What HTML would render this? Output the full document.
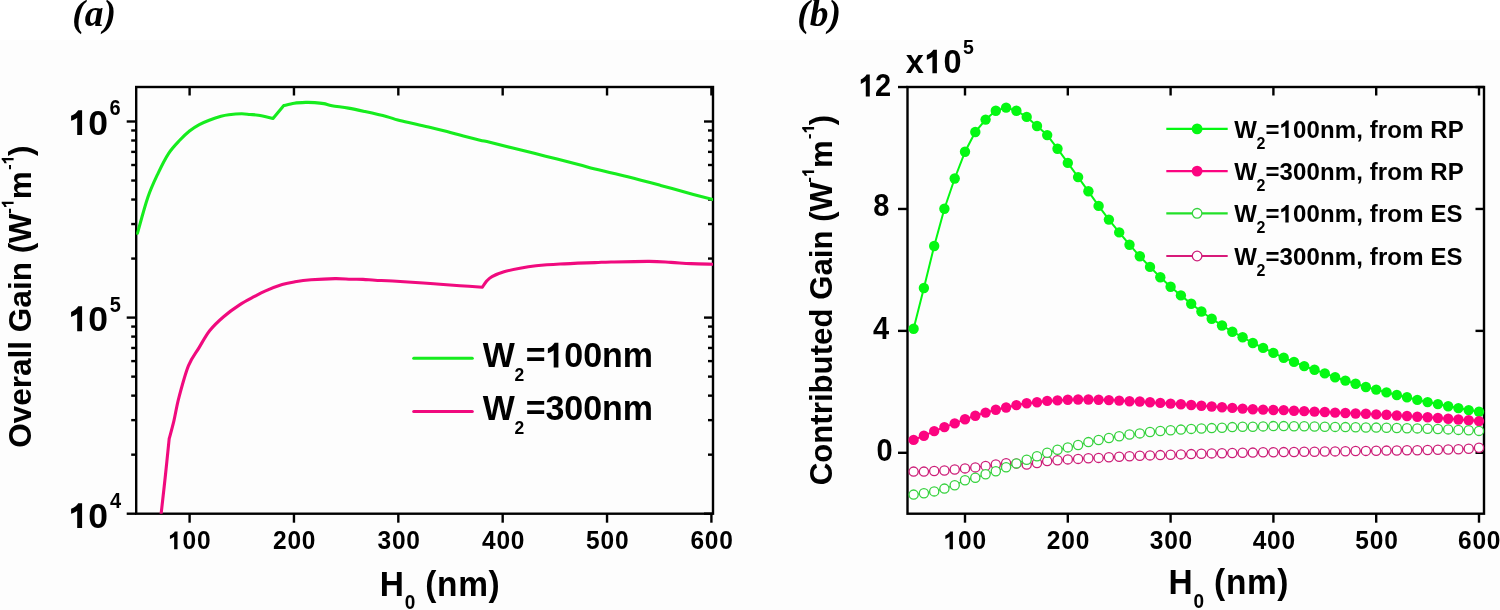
<!DOCTYPE html>
<html><head><meta charset="utf-8"><title>Gain plots</title>
<style>
html,body{margin:0;padding:0;background:#fff;}
body{width:1500px;height:610px;overflow:hidden;}
svg{display:block;will-change:transform;}
text{font-kerning:none;}
</style></head>
<body>
<svg width="1500" height="610" viewBox="0 0 1500 610">
<defs><clipPath id="clipA"><rect x="136.2" y="87.0" width="576.8" height="426.70000000000005"/></clipPath></defs>
<rect x="0" y="0" width="1500" height="610" fill="#fff"/>
<rect x="0" y="40" width="1500" height="570" fill="#fdfdfd"/>
<rect x="136.2" y="87.0" width="576.80" height="426.70" fill="none" stroke="#000" stroke-width="2.4"/>
<line x1="189.60" y1="513.70" x2="189.60" y2="522.70" stroke="#000" stroke-width="2.4"/>
<line x1="189.60" y1="87.00" x2="189.60" y2="95.50" stroke="#000" stroke-width="2.4"/>
<line x1="293.96" y1="513.70" x2="293.96" y2="522.70" stroke="#000" stroke-width="2.4"/>
<line x1="293.96" y1="87.00" x2="293.96" y2="95.50" stroke="#000" stroke-width="2.4"/>
<line x1="398.32" y1="513.70" x2="398.32" y2="522.70" stroke="#000" stroke-width="2.4"/>
<line x1="398.32" y1="87.00" x2="398.32" y2="95.50" stroke="#000" stroke-width="2.4"/>
<line x1="502.68" y1="513.70" x2="502.68" y2="522.70" stroke="#000" stroke-width="2.4"/>
<line x1="502.68" y1="87.00" x2="502.68" y2="95.50" stroke="#000" stroke-width="2.4"/>
<line x1="607.04" y1="513.70" x2="607.04" y2="522.70" stroke="#000" stroke-width="2.4"/>
<line x1="607.04" y1="87.00" x2="607.04" y2="95.50" stroke="#000" stroke-width="2.4"/>
<line x1="711.40" y1="513.70" x2="711.40" y2="522.70" stroke="#000" stroke-width="2.4"/>
<line x1="711.40" y1="87.00" x2="711.40" y2="95.50" stroke="#000" stroke-width="2.4"/>
<line x1="126.70" y1="513.70" x2="136.20" y2="513.70" stroke="#000" stroke-width="2.4"/>
<line x1="713.00" y1="513.70" x2="704.00" y2="513.70" stroke="#000" stroke-width="2.4"/>
<line x1="126.70" y1="317.60" x2="136.20" y2="317.60" stroke="#000" stroke-width="2.4"/>
<line x1="713.00" y1="317.60" x2="704.00" y2="317.60" stroke="#000" stroke-width="2.4"/>
<line x1="126.70" y1="121.50" x2="136.20" y2="121.50" stroke="#000" stroke-width="2.4"/>
<line x1="713.00" y1="121.50" x2="704.00" y2="121.50" stroke="#000" stroke-width="2.4"/>
<line x1="131.20" y1="454.67" x2="136.20" y2="454.67" stroke="#000" stroke-width="2.4"/>
<line x1="713.00" y1="454.67" x2="708.00" y2="454.67" stroke="#000" stroke-width="2.4"/>
<line x1="131.20" y1="420.14" x2="136.20" y2="420.14" stroke="#000" stroke-width="2.4"/>
<line x1="713.00" y1="420.14" x2="708.00" y2="420.14" stroke="#000" stroke-width="2.4"/>
<line x1="131.20" y1="395.64" x2="136.20" y2="395.64" stroke="#000" stroke-width="2.4"/>
<line x1="713.00" y1="395.64" x2="708.00" y2="395.64" stroke="#000" stroke-width="2.4"/>
<line x1="131.20" y1="376.63" x2="136.20" y2="376.63" stroke="#000" stroke-width="2.4"/>
<line x1="713.00" y1="376.63" x2="708.00" y2="376.63" stroke="#000" stroke-width="2.4"/>
<line x1="131.20" y1="361.10" x2="136.20" y2="361.10" stroke="#000" stroke-width="2.4"/>
<line x1="713.00" y1="361.10" x2="708.00" y2="361.10" stroke="#000" stroke-width="2.4"/>
<line x1="131.20" y1="347.98" x2="136.20" y2="347.98" stroke="#000" stroke-width="2.4"/>
<line x1="713.00" y1="347.98" x2="708.00" y2="347.98" stroke="#000" stroke-width="2.4"/>
<line x1="131.20" y1="336.60" x2="136.20" y2="336.60" stroke="#000" stroke-width="2.4"/>
<line x1="713.00" y1="336.60" x2="708.00" y2="336.60" stroke="#000" stroke-width="2.4"/>
<line x1="131.20" y1="326.57" x2="136.20" y2="326.57" stroke="#000" stroke-width="2.4"/>
<line x1="713.00" y1="326.57" x2="708.00" y2="326.57" stroke="#000" stroke-width="2.4"/>
<line x1="131.20" y1="258.57" x2="136.20" y2="258.57" stroke="#000" stroke-width="2.4"/>
<line x1="713.00" y1="258.57" x2="708.00" y2="258.57" stroke="#000" stroke-width="2.4"/>
<line x1="131.20" y1="224.04" x2="136.20" y2="224.04" stroke="#000" stroke-width="2.4"/>
<line x1="713.00" y1="224.04" x2="708.00" y2="224.04" stroke="#000" stroke-width="2.4"/>
<line x1="131.20" y1="199.54" x2="136.20" y2="199.54" stroke="#000" stroke-width="2.4"/>
<line x1="713.00" y1="199.54" x2="708.00" y2="199.54" stroke="#000" stroke-width="2.4"/>
<line x1="131.20" y1="180.53" x2="136.20" y2="180.53" stroke="#000" stroke-width="2.4"/>
<line x1="713.00" y1="180.53" x2="708.00" y2="180.53" stroke="#000" stroke-width="2.4"/>
<line x1="131.20" y1="165.00" x2="136.20" y2="165.00" stroke="#000" stroke-width="2.4"/>
<line x1="713.00" y1="165.00" x2="708.00" y2="165.00" stroke="#000" stroke-width="2.4"/>
<line x1="131.20" y1="151.88" x2="136.20" y2="151.88" stroke="#000" stroke-width="2.4"/>
<line x1="713.00" y1="151.88" x2="708.00" y2="151.88" stroke="#000" stroke-width="2.4"/>
<line x1="131.20" y1="140.50" x2="136.20" y2="140.50" stroke="#000" stroke-width="2.4"/>
<line x1="713.00" y1="140.50" x2="708.00" y2="140.50" stroke="#000" stroke-width="2.4"/>
<line x1="131.20" y1="130.47" x2="136.20" y2="130.47" stroke="#000" stroke-width="2.4"/>
<line x1="713.00" y1="130.47" x2="708.00" y2="130.47" stroke="#000" stroke-width="2.4"/>
<g clip-path="url(#clipA)">
<path d="M161.20,513.20 C161.90,506.92 164.07,487.92 165.40,475.50 C166.73,463.08 168.57,444.83 169.20,438.70 M169.20,438.70 C169.98,435.72 172.28,427.65 173.90,420.80 C175.52,413.95 176.47,406.78 178.90,397.60 C181.33,388.42 185.13,374.03 188.50,365.70 C191.87,357.37 195.55,353.47 199.10,347.60 C202.65,341.73 205.72,335.65 209.80,330.50 C213.88,325.35 218.63,320.97 223.60,316.70 C228.57,312.43 234.43,308.28 239.60,304.90 C244.77,301.52 250.37,298.70 254.60,296.40 C258.83,294.10 260.40,293.07 265.00,291.10 C269.60,289.13 277.20,286.15 282.20,284.60 C287.20,283.05 290.20,282.60 295.00,281.80 C299.80,281.00 304.33,280.33 311.00,279.80 C317.67,279.27 328.33,278.70 335.00,278.60 C341.67,278.50 346.33,279.07 351.00,279.20 C355.67,279.33 359.00,279.23 363.00,279.40 C367.00,279.57 370.05,279.93 375.00,280.20 C379.95,280.47 384.65,280.53 392.70,281.00 C400.75,281.47 415.42,282.47 423.30,283.00 C431.18,283.53 433.88,283.75 440.00,284.20 C446.12,284.65 452.93,285.20 460.00,285.70 C467.07,286.20 478.67,286.95 482.40,287.20 M482.40,287.20 C483.07,286.23 484.80,283.17 486.40,281.40 C488.00,279.63 489.07,278.20 492.00,276.60 C494.93,275.00 499.33,273.20 504.00,271.80 C508.67,270.40 514.67,269.20 520.00,268.20 C525.33,267.20 529.33,266.50 536.00,265.80 C542.67,265.10 550.17,264.53 560.00,264.00 C569.83,263.47 586.50,262.93 595.00,262.60 C603.50,262.27 601.93,262.20 611.00,262.00 C620.07,261.80 639.40,261.33 649.40,261.40 C659.40,261.47 664.07,262.03 671.00,262.40 C677.93,262.77 684.00,263.30 691.00,263.60 C698.00,263.90 709.33,264.10 713.00,264.20" fill="none" stroke="#f00a7e" stroke-width="3.1" stroke-linejoin="round" stroke-linecap="round"/>
<path d="M137.40,233.40 C139.13,227.40 144.32,207.50 147.80,197.40 C151.28,187.30 154.82,180.15 158.30,172.80 C161.78,165.45 165.13,158.72 168.70,153.30 C172.27,147.88 176.23,144.02 179.70,140.30 C183.17,136.58 186.23,133.62 189.50,131.00 C192.77,128.38 196.02,126.40 199.30,124.60 C202.58,122.80 205.58,121.60 209.20,120.20 C212.82,118.80 217.73,117.12 221.00,116.20 C224.27,115.28 225.37,115.10 228.80,114.70 C232.23,114.30 238.07,113.83 241.60,113.80 C245.13,113.77 247.22,114.27 250.00,114.50 C252.78,114.73 254.47,114.55 258.30,115.20 C262.13,115.85 270.55,117.87 273.00,118.40 M273.00,118.40 L283.60,105.70 M283.60,105.70 C285.38,105.28 290.62,103.75 294.30,103.20 C297.98,102.65 302.30,102.50 305.70,102.40 C309.10,102.30 311.68,102.40 314.70,102.60 C317.72,102.80 320.92,103.08 323.80,103.60 C326.68,104.12 327.90,104.95 332.00,105.70 C336.10,106.45 342.90,107.13 348.40,108.10 C353.90,109.07 358.68,110.12 365.00,111.50 C371.32,112.88 380.83,114.97 386.30,116.40 C391.77,117.83 393.15,118.87 397.80,120.10 C402.45,121.33 408.73,122.57 414.20,123.80 C419.67,125.03 425.13,126.20 430.60,127.50 C436.07,128.80 441.53,130.17 447.00,131.60 C452.47,133.03 457.90,134.67 463.40,136.10 C468.90,137.53 475.60,139.17 480.00,140.20 C484.40,141.23 484.33,141.00 489.80,142.30 C495.27,143.60 503.50,145.68 512.80,148.00 C522.10,150.32 534.67,153.47 545.60,156.20 C556.53,158.93 570.17,162.27 578.40,164.40 C586.63,166.53 586.77,166.93 595.00,169.00 C603.23,171.07 616.87,174.07 627.80,176.80 C638.73,179.53 649.67,182.47 660.60,185.40 C671.53,188.33 684.67,192.03 693.40,194.40 C702.13,196.77 709.73,198.73 713.00,199.60" fill="none" stroke="#16ec1e" stroke-width="3.1" stroke-linejoin="round" stroke-linecap="round"/>
</g>
<path d="M413.7,358.3H472.3" stroke="#16ec1e" stroke-width="3.0" stroke-linecap="round" fill="none"/>
<path d="M413.7,411.5H472.3" stroke="#f00a7e" stroke-width="3.0" stroke-linecap="round" fill="none"/>
<g font-family='"Liberation Sans", sans-serif' font-weight="bold" fill="#000" style="font-kerning:none">
<text transform="matrix(1,0,0,1.035,0,-12.862)" x="482.87" y="367.50" font-size="34">W</text>
<text transform="matrix(1,0,0,1.035,0,-13.352)" x="514.59" y="381.50" font-size="17.5">2</text>
<path d="M380,0L242,0L242,-492C196,-455 132,-423 70,-402L70,-542C160,-578 234,-638 270,-700L380,-700Z" transform="translate(545.47,367.50) scale(0.03400,0.03519)"/>
<text transform="matrix(1,0,0,1.035,0,-12.862)" x="525.69 564.31 583.14 601.98 622.68" y="367.50" font-size="34">=00nm</text>
<text transform="matrix(1,0,0,1.035,0,-14.700)" x="482.87" y="420.00" font-size="34">W</text>
<text transform="matrix(1,0,0,1.035,0,-15.190)" x="514.59" y="434.00" font-size="17.5">2</text>
<text transform="matrix(1,0,0,1.035,0,-14.700)" x="525.69 545.47 564.31 583.14 601.98 622.68" y="420.00" font-size="34">=300nm</text>
<path d="M380,0L242,0L242,-492C196,-455 132,-423 70,-402L70,-542C160,-578 234,-638 270,-700L380,-700Z" transform="translate(68.61,135.10) scale(0.03550,0.03550)"/>
<text x="88.36" y="135.10" font-size="35.5">0</text>
<text transform="matrix(1,0,0,1.1,0,-11.550)" x="109.57" y="115.50" font-size="20">6</text>
<path d="M380,0L242,0L242,-492C196,-455 132,-423 70,-402L70,-542C160,-578 234,-638 270,-700L380,-700Z" transform="translate(68.61,331.20) scale(0.03550,0.03550)"/>
<text x="88.36" y="331.20" font-size="35.5">0</text>
<text transform="matrix(1,0,0,1.1,0,-31.160)" x="109.68" y="311.60" font-size="20">5</text>
<path d="M380,0L242,0L242,-492C196,-455 132,-423 70,-402L70,-542C160,-578 234,-638 270,-700L380,-700Z" transform="translate(68.61,528.10) scale(0.03550,0.03550)"/>
<text x="88.36" y="528.10" font-size="35.5">0</text>
<text transform="matrix(1,0,0,1.1,0,-50.770)" x="110.00" y="507.70" font-size="20">4</text>
<path d="M380,0L242,0L242,-492C196,-455 132,-423 70,-402L70,-542C160,-578 234,-638 270,-700L380,-700Z" transform="translate(168.21,549.30) scale(0.02450,0.02536)"/>
<text transform="matrix(1,0,0,1.035,0,-19.225)" x="182.63 197.06" y="549.30" font-size="24.5">00</text>
<text transform="matrix(1,0,0,1.035,0,-19.225)" x="273.00 287.42 301.85" y="549.30" font-size="24.5">200</text>
<text transform="matrix(1,0,0,1.035,0,-19.225)" x="377.50 391.93 406.35" y="549.30" font-size="24.5">300</text>
<text transform="matrix(1,0,0,1.035,0,-19.225)" x="481.96 496.38 510.81" y="549.30" font-size="24.5">400</text>
<text transform="matrix(1,0,0,1.035,0,-19.225)" x="586.13 600.55 614.98" y="549.30" font-size="24.5">500</text>
<text transform="matrix(1,0,0,1.035,0,-19.225)" x="690.42 704.84 719.27" y="549.30" font-size="24.5">600</text>
<text transform="matrix(1,0,0,1.035,0,-20.860)" x="379.76" y="596.00" font-size="33.5">H</text>
<text transform="matrix(1,0,0,1.035,0,-21.325)" x="404.75" y="609.30" font-size="19">0</text>
<text transform="matrix(1,0,0,1.035,0,-20.860)" x="425.33 437.09 458.15 488.54" y="596.00" font-size="33.5">(nm)</text>
</g>
<g font-family='"Liberation Sans", sans-serif' font-weight="bold" fill="#000">
<g transform="translate(31,446.4) rotate(-90)">
<text x="-1.29 23.21 40.73 58.25 70.51 88.02 96.78 114.28 138.78 156.30 165.05 193.05 203.53" y="0.00" font-size="31.5">OverallGain(W</text>
<path d="M380,0L242,0L242,-492C196,-455 132,-423 70,-402L70,-542C160,-578 234,-638 270,-700L380,-700Z" transform="translate(238.26,-17.40) scale(0.01700,0.01700)"/>
<text x="232.60" y="-17.40" font-size="17">-</text>
<text x="247.14" y="0.00" font-size="31.5">m</text>
<path d="M380,0L242,0L242,-492C196,-455 132,-423 70,-402L70,-542C160,-578 234,-638 270,-700L380,-700Z" transform="translate(281.95,-17.40) scale(0.01700,0.01700)"/>
<text x="276.29" y="-17.40" font-size="17">-</text>
<text x="290.37" y="0.00" font-size="31.5">)</text>
</g>
</g>
<rect x="907.5" y="87.0" width="576.50" height="426.70" fill="none" stroke="#000" stroke-width="2.4"/>
<line x1="965.00" y1="513.70" x2="965.00" y2="522.70" stroke="#000" stroke-width="2.4"/>
<line x1="965.00" y1="87.00" x2="965.00" y2="95.50" stroke="#000" stroke-width="2.4"/>
<line x1="1067.80" y1="513.70" x2="1067.80" y2="522.70" stroke="#000" stroke-width="2.4"/>
<line x1="1067.80" y1="87.00" x2="1067.80" y2="95.50" stroke="#000" stroke-width="2.4"/>
<line x1="1170.60" y1="513.70" x2="1170.60" y2="522.70" stroke="#000" stroke-width="2.4"/>
<line x1="1170.60" y1="87.00" x2="1170.60" y2="95.50" stroke="#000" stroke-width="2.4"/>
<line x1="1273.40" y1="513.70" x2="1273.40" y2="522.70" stroke="#000" stroke-width="2.4"/>
<line x1="1273.40" y1="87.00" x2="1273.40" y2="95.50" stroke="#000" stroke-width="2.4"/>
<line x1="1376.20" y1="513.70" x2="1376.20" y2="522.70" stroke="#000" stroke-width="2.4"/>
<line x1="1376.20" y1="87.00" x2="1376.20" y2="95.50" stroke="#000" stroke-width="2.4"/>
<line x1="1479.00" y1="513.70" x2="1479.00" y2="522.70" stroke="#000" stroke-width="2.4"/>
<line x1="1479.00" y1="87.00" x2="1479.00" y2="95.50" stroke="#000" stroke-width="2.4"/>
<line x1="898.00" y1="452.80" x2="907.50" y2="452.80" stroke="#000" stroke-width="2.4"/>
<line x1="1484.00" y1="452.80" x2="1475.50" y2="452.80" stroke="#000" stroke-width="2.4"/>
<line x1="898.00" y1="330.88" x2="907.50" y2="330.88" stroke="#000" stroke-width="2.4"/>
<line x1="1484.00" y1="330.88" x2="1475.50" y2="330.88" stroke="#000" stroke-width="2.4"/>
<line x1="898.00" y1="208.96" x2="907.50" y2="208.96" stroke="#000" stroke-width="2.4"/>
<line x1="1484.00" y1="208.96" x2="1475.50" y2="208.96" stroke="#000" stroke-width="2.4"/>
<line x1="898.00" y1="87.04" x2="907.50" y2="87.04" stroke="#000" stroke-width="2.4"/>
<line x1="1484.00" y1="87.04" x2="1475.50" y2="87.04" stroke="#000" stroke-width="2.4"/>
<polyline points="913.6,328.7 923.9,288.0 934.2,246.0 944.4,208.7 954.7,178.5 965.0,151.8 975.3,132.0 985.6,119.6 995.8,110.8 1006.1,107.6 1016.4,110.8 1026.7,116.9 1037.0,126.0 1047.2,135.1 1057.5,148.7 1067.8,162.9 1078.1,177.1 1088.4,191.3 1098.6,205.9 1108.9,219.6 1119.2,232.4 1129.5,244.7 1139.8,256.3 1150.0,266.9 1160.3,277.3 1170.6,286.7 1180.9,295.4 1191.2,303.7 1201.4,311.5 1211.7,318.7 1222.0,325.5 1232.3,331.7 1242.6,337.2 1252.8,343.0 1263.1,347.9 1273.4,352.9 1283.7,357.8 1294.0,361.9 1304.2,366.1 1314.5,369.7 1324.8,373.4 1335.1,377.3 1345.4,380.6 1355.6,383.7 1365.9,387.0 1376.2,389.6 1386.5,392.4 1396.8,395.0 1407.0,397.2 1417.3,399.9 1427.6,402.1 1437.9,404.1 1448.2,406.2 1458.4,408.1 1468.7,410.1 1479.0,411.7" fill="none" stroke="#04f812" stroke-width="2.0" stroke-linejoin="round" stroke-linecap="round"/>
<circle cx="913.6" cy="328.7" r="5.2" fill="#04f812"/>
<circle cx="923.9" cy="288.0" r="5.2" fill="#04f812"/>
<circle cx="934.2" cy="246.0" r="5.2" fill="#04f812"/>
<circle cx="944.4" cy="208.7" r="5.2" fill="#04f812"/>
<circle cx="954.7" cy="178.5" r="5.2" fill="#04f812"/>
<circle cx="965.0" cy="151.8" r="5.2" fill="#04f812"/>
<circle cx="975.3" cy="132.0" r="5.2" fill="#04f812"/>
<circle cx="985.6" cy="119.6" r="5.2" fill="#04f812"/>
<circle cx="995.8" cy="110.8" r="5.2" fill="#04f812"/>
<circle cx="1006.1" cy="107.6" r="5.2" fill="#04f812"/>
<circle cx="1016.4" cy="110.8" r="5.2" fill="#04f812"/>
<circle cx="1026.7" cy="116.9" r="5.2" fill="#04f812"/>
<circle cx="1037.0" cy="126.0" r="5.2" fill="#04f812"/>
<circle cx="1047.2" cy="135.1" r="5.2" fill="#04f812"/>
<circle cx="1057.5" cy="148.7" r="5.2" fill="#04f812"/>
<circle cx="1067.8" cy="162.9" r="5.2" fill="#04f812"/>
<circle cx="1078.1" cy="177.1" r="5.2" fill="#04f812"/>
<circle cx="1088.4" cy="191.3" r="5.2" fill="#04f812"/>
<circle cx="1098.6" cy="205.9" r="5.2" fill="#04f812"/>
<circle cx="1108.9" cy="219.6" r="5.2" fill="#04f812"/>
<circle cx="1119.2" cy="232.4" r="5.2" fill="#04f812"/>
<circle cx="1129.5" cy="244.7" r="5.2" fill="#04f812"/>
<circle cx="1139.8" cy="256.3" r="5.2" fill="#04f812"/>
<circle cx="1150.0" cy="266.9" r="5.2" fill="#04f812"/>
<circle cx="1160.3" cy="277.3" r="5.2" fill="#04f812"/>
<circle cx="1170.6" cy="286.7" r="5.2" fill="#04f812"/>
<circle cx="1180.9" cy="295.4" r="5.2" fill="#04f812"/>
<circle cx="1191.2" cy="303.7" r="5.2" fill="#04f812"/>
<circle cx="1201.4" cy="311.5" r="5.2" fill="#04f812"/>
<circle cx="1211.7" cy="318.7" r="5.2" fill="#04f812"/>
<circle cx="1222.0" cy="325.5" r="5.2" fill="#04f812"/>
<circle cx="1232.3" cy="331.7" r="5.2" fill="#04f812"/>
<circle cx="1242.6" cy="337.2" r="5.2" fill="#04f812"/>
<circle cx="1252.8" cy="343.0" r="5.2" fill="#04f812"/>
<circle cx="1263.1" cy="347.9" r="5.2" fill="#04f812"/>
<circle cx="1273.4" cy="352.9" r="5.2" fill="#04f812"/>
<circle cx="1283.7" cy="357.8" r="5.2" fill="#04f812"/>
<circle cx="1294.0" cy="361.9" r="5.2" fill="#04f812"/>
<circle cx="1304.2" cy="366.1" r="5.2" fill="#04f812"/>
<circle cx="1314.5" cy="369.7" r="5.2" fill="#04f812"/>
<circle cx="1324.8" cy="373.4" r="5.2" fill="#04f812"/>
<circle cx="1335.1" cy="377.3" r="5.2" fill="#04f812"/>
<circle cx="1345.4" cy="380.6" r="5.2" fill="#04f812"/>
<circle cx="1355.6" cy="383.7" r="5.2" fill="#04f812"/>
<circle cx="1365.9" cy="387.0" r="5.2" fill="#04f812"/>
<circle cx="1376.2" cy="389.6" r="5.2" fill="#04f812"/>
<circle cx="1386.5" cy="392.4" r="5.2" fill="#04f812"/>
<circle cx="1396.8" cy="395.0" r="5.2" fill="#04f812"/>
<circle cx="1407.0" cy="397.2" r="5.2" fill="#04f812"/>
<circle cx="1417.3" cy="399.9" r="5.2" fill="#04f812"/>
<circle cx="1427.6" cy="402.1" r="5.2" fill="#04f812"/>
<circle cx="1437.9" cy="404.1" r="5.2" fill="#04f812"/>
<circle cx="1448.2" cy="406.2" r="5.2" fill="#04f812"/>
<circle cx="1458.4" cy="408.1" r="5.2" fill="#04f812"/>
<circle cx="1468.7" cy="410.1" r="5.2" fill="#04f812"/>
<circle cx="1479.0" cy="411.7" r="5.2" fill="#04f812"/>
<polyline points="913.6,439.9 923.9,435.8 934.2,431.1 944.4,427.1 954.7,423.4 965.0,419.2 975.3,415.8 985.6,412.6 995.8,409.8 1006.1,407.5 1016.4,405.1 1026.7,403.2 1037.0,402.3 1047.2,400.9 1057.5,400.4 1067.8,399.8 1078.1,399.5 1088.4,399.5 1098.6,399.8 1108.9,400.1 1119.2,400.6 1129.5,401.2 1139.8,401.5 1150.0,402.3 1160.3,402.9 1170.6,403.6 1180.9,404.3 1191.2,405.0 1201.4,405.7 1211.7,406.5 1222.0,407.2 1232.3,407.9 1242.6,408.6 1252.8,409.3 1263.1,409.6 1273.4,410.0 1283.7,410.1 1294.0,410.7 1304.2,411.1 1314.5,411.6 1324.8,412.0 1335.1,412.6 1345.4,413.0 1355.6,413.5 1365.9,413.8 1376.2,414.4 1386.5,414.8 1396.8,415.5 1407.0,416.0 1417.3,416.7 1427.6,417.3 1437.9,418.0 1448.2,418.8 1458.4,419.5 1468.7,420.2 1479.0,421.1" fill="none" stroke="#fc0480" stroke-width="2.0" stroke-linejoin="round" stroke-linecap="round"/>
<circle cx="913.6" cy="439.9" r="5.2" fill="#fc0480"/>
<circle cx="923.9" cy="435.8" r="5.2" fill="#fc0480"/>
<circle cx="934.2" cy="431.1" r="5.2" fill="#fc0480"/>
<circle cx="944.4" cy="427.1" r="5.2" fill="#fc0480"/>
<circle cx="954.7" cy="423.4" r="5.2" fill="#fc0480"/>
<circle cx="965.0" cy="419.2" r="5.2" fill="#fc0480"/>
<circle cx="975.3" cy="415.8" r="5.2" fill="#fc0480"/>
<circle cx="985.6" cy="412.6" r="5.2" fill="#fc0480"/>
<circle cx="995.8" cy="409.8" r="5.2" fill="#fc0480"/>
<circle cx="1006.1" cy="407.5" r="5.2" fill="#fc0480"/>
<circle cx="1016.4" cy="405.1" r="5.2" fill="#fc0480"/>
<circle cx="1026.7" cy="403.2" r="5.2" fill="#fc0480"/>
<circle cx="1037.0" cy="402.3" r="5.2" fill="#fc0480"/>
<circle cx="1047.2" cy="400.9" r="5.2" fill="#fc0480"/>
<circle cx="1057.5" cy="400.4" r="5.2" fill="#fc0480"/>
<circle cx="1067.8" cy="399.8" r="5.2" fill="#fc0480"/>
<circle cx="1078.1" cy="399.5" r="5.2" fill="#fc0480"/>
<circle cx="1088.4" cy="399.5" r="5.2" fill="#fc0480"/>
<circle cx="1098.6" cy="399.8" r="5.2" fill="#fc0480"/>
<circle cx="1108.9" cy="400.1" r="5.2" fill="#fc0480"/>
<circle cx="1119.2" cy="400.6" r="5.2" fill="#fc0480"/>
<circle cx="1129.5" cy="401.2" r="5.2" fill="#fc0480"/>
<circle cx="1139.8" cy="401.5" r="5.2" fill="#fc0480"/>
<circle cx="1150.0" cy="402.3" r="5.2" fill="#fc0480"/>
<circle cx="1160.3" cy="402.9" r="5.2" fill="#fc0480"/>
<circle cx="1170.6" cy="403.6" r="5.2" fill="#fc0480"/>
<circle cx="1180.9" cy="404.3" r="5.2" fill="#fc0480"/>
<circle cx="1191.2" cy="405.0" r="5.2" fill="#fc0480"/>
<circle cx="1201.4" cy="405.7" r="5.2" fill="#fc0480"/>
<circle cx="1211.7" cy="406.5" r="5.2" fill="#fc0480"/>
<circle cx="1222.0" cy="407.2" r="5.2" fill="#fc0480"/>
<circle cx="1232.3" cy="407.9" r="5.2" fill="#fc0480"/>
<circle cx="1242.6" cy="408.6" r="5.2" fill="#fc0480"/>
<circle cx="1252.8" cy="409.3" r="5.2" fill="#fc0480"/>
<circle cx="1263.1" cy="409.6" r="5.2" fill="#fc0480"/>
<circle cx="1273.4" cy="410.0" r="5.2" fill="#fc0480"/>
<circle cx="1283.7" cy="410.1" r="5.2" fill="#fc0480"/>
<circle cx="1294.0" cy="410.7" r="5.2" fill="#fc0480"/>
<circle cx="1304.2" cy="411.1" r="5.2" fill="#fc0480"/>
<circle cx="1314.5" cy="411.6" r="5.2" fill="#fc0480"/>
<circle cx="1324.8" cy="412.0" r="5.2" fill="#fc0480"/>
<circle cx="1335.1" cy="412.6" r="5.2" fill="#fc0480"/>
<circle cx="1345.4" cy="413.0" r="5.2" fill="#fc0480"/>
<circle cx="1355.6" cy="413.5" r="5.2" fill="#fc0480"/>
<circle cx="1365.9" cy="413.8" r="5.2" fill="#fc0480"/>
<circle cx="1376.2" cy="414.4" r="5.2" fill="#fc0480"/>
<circle cx="1386.5" cy="414.8" r="5.2" fill="#fc0480"/>
<circle cx="1396.8" cy="415.5" r="5.2" fill="#fc0480"/>
<circle cx="1407.0" cy="416.0" r="5.2" fill="#fc0480"/>
<circle cx="1417.3" cy="416.7" r="5.2" fill="#fc0480"/>
<circle cx="1427.6" cy="417.3" r="5.2" fill="#fc0480"/>
<circle cx="1437.9" cy="418.0" r="5.2" fill="#fc0480"/>
<circle cx="1448.2" cy="418.8" r="5.2" fill="#fc0480"/>
<circle cx="1458.4" cy="419.5" r="5.2" fill="#fc0480"/>
<circle cx="1468.7" cy="420.2" r="5.2" fill="#fc0480"/>
<circle cx="1479.0" cy="421.1" r="5.2" fill="#fc0480"/>
<polyline points="913.6,471.6 923.9,471.6 934.2,471.0 944.4,470.5 954.7,469.5 965.0,468.4 975.3,467.4 985.6,465.9 995.8,464.5 1006.1,463.3 1016.4,463.5 1026.7,464.6 1037.0,463.0 1047.2,461.1 1057.5,460.2 1067.8,459.4 1078.1,458.9 1088.4,458.3 1098.6,457.9 1108.9,457.2 1119.2,456.8 1129.5,456.2 1139.8,455.8 1150.0,455.4 1160.3,455.1 1170.6,454.7 1180.9,454.4 1191.2,454.1 1201.4,453.7 1211.7,453.4 1222.0,453.3 1232.3,453.0 1242.6,452.7 1252.8,452.6 1263.1,452.3 1273.4,452.2 1283.7,452.1 1294.0,452.0 1304.2,451.8 1314.5,451.7 1324.8,451.5 1335.1,451.4 1345.4,451.2 1355.6,451.0 1365.9,450.9 1376.2,450.7 1386.5,450.6 1396.8,450.5 1407.0,450.3 1417.3,450.2 1427.6,450.0 1437.9,449.8 1448.2,449.5 1458.4,449.2 1468.7,448.7 1479.0,447.8" fill="none" stroke="#cc1e78" stroke-width="1.4" stroke-linejoin="round" stroke-linecap="round"/>
<circle cx="913.6" cy="471.6" r="4.6" fill="#fff" stroke="#cc1e78" stroke-width="1.3"/>
<circle cx="923.9" cy="471.6" r="4.6" fill="#fff" stroke="#cc1e78" stroke-width="1.3"/>
<circle cx="934.2" cy="471.0" r="4.6" fill="#fff" stroke="#cc1e78" stroke-width="1.3"/>
<circle cx="944.4" cy="470.5" r="4.6" fill="#fff" stroke="#cc1e78" stroke-width="1.3"/>
<circle cx="954.7" cy="469.5" r="4.6" fill="#fff" stroke="#cc1e78" stroke-width="1.3"/>
<circle cx="965.0" cy="468.4" r="4.6" fill="#fff" stroke="#cc1e78" stroke-width="1.3"/>
<circle cx="975.3" cy="467.4" r="4.6" fill="#fff" stroke="#cc1e78" stroke-width="1.3"/>
<circle cx="985.6" cy="465.9" r="4.6" fill="#fff" stroke="#cc1e78" stroke-width="1.3"/>
<circle cx="995.8" cy="464.5" r="4.6" fill="#fff" stroke="#cc1e78" stroke-width="1.3"/>
<circle cx="1006.1" cy="463.3" r="4.6" fill="#fff" stroke="#cc1e78" stroke-width="1.3"/>
<circle cx="1016.4" cy="463.5" r="4.6" fill="#fff" stroke="#cc1e78" stroke-width="1.3"/>
<circle cx="1026.7" cy="464.6" r="4.6" fill="#fff" stroke="#cc1e78" stroke-width="1.3"/>
<circle cx="1037.0" cy="463.0" r="4.6" fill="#fff" stroke="#cc1e78" stroke-width="1.3"/>
<circle cx="1047.2" cy="461.1" r="4.6" fill="#fff" stroke="#cc1e78" stroke-width="1.3"/>
<circle cx="1057.5" cy="460.2" r="4.6" fill="#fff" stroke="#cc1e78" stroke-width="1.3"/>
<circle cx="1067.8" cy="459.4" r="4.6" fill="#fff" stroke="#cc1e78" stroke-width="1.3"/>
<circle cx="1078.1" cy="458.9" r="4.6" fill="#fff" stroke="#cc1e78" stroke-width="1.3"/>
<circle cx="1088.4" cy="458.3" r="4.6" fill="#fff" stroke="#cc1e78" stroke-width="1.3"/>
<circle cx="1098.6" cy="457.9" r="4.6" fill="#fff" stroke="#cc1e78" stroke-width="1.3"/>
<circle cx="1108.9" cy="457.2" r="4.6" fill="#fff" stroke="#cc1e78" stroke-width="1.3"/>
<circle cx="1119.2" cy="456.8" r="4.6" fill="#fff" stroke="#cc1e78" stroke-width="1.3"/>
<circle cx="1129.5" cy="456.2" r="4.6" fill="#fff" stroke="#cc1e78" stroke-width="1.3"/>
<circle cx="1139.8" cy="455.8" r="4.6" fill="#fff" stroke="#cc1e78" stroke-width="1.3"/>
<circle cx="1150.0" cy="455.4" r="4.6" fill="#fff" stroke="#cc1e78" stroke-width="1.3"/>
<circle cx="1160.3" cy="455.1" r="4.6" fill="#fff" stroke="#cc1e78" stroke-width="1.3"/>
<circle cx="1170.6" cy="454.7" r="4.6" fill="#fff" stroke="#cc1e78" stroke-width="1.3"/>
<circle cx="1180.9" cy="454.4" r="4.6" fill="#fff" stroke="#cc1e78" stroke-width="1.3"/>
<circle cx="1191.2" cy="454.1" r="4.6" fill="#fff" stroke="#cc1e78" stroke-width="1.3"/>
<circle cx="1201.4" cy="453.7" r="4.6" fill="#fff" stroke="#cc1e78" stroke-width="1.3"/>
<circle cx="1211.7" cy="453.4" r="4.6" fill="#fff" stroke="#cc1e78" stroke-width="1.3"/>
<circle cx="1222.0" cy="453.3" r="4.6" fill="#fff" stroke="#cc1e78" stroke-width="1.3"/>
<circle cx="1232.3" cy="453.0" r="4.6" fill="#fff" stroke="#cc1e78" stroke-width="1.3"/>
<circle cx="1242.6" cy="452.7" r="4.6" fill="#fff" stroke="#cc1e78" stroke-width="1.3"/>
<circle cx="1252.8" cy="452.6" r="4.6" fill="#fff" stroke="#cc1e78" stroke-width="1.3"/>
<circle cx="1263.1" cy="452.3" r="4.6" fill="#fff" stroke="#cc1e78" stroke-width="1.3"/>
<circle cx="1273.4" cy="452.2" r="4.6" fill="#fff" stroke="#cc1e78" stroke-width="1.3"/>
<circle cx="1283.7" cy="452.1" r="4.6" fill="#fff" stroke="#cc1e78" stroke-width="1.3"/>
<circle cx="1294.0" cy="452.0" r="4.6" fill="#fff" stroke="#cc1e78" stroke-width="1.3"/>
<circle cx="1304.2" cy="451.8" r="4.6" fill="#fff" stroke="#cc1e78" stroke-width="1.3"/>
<circle cx="1314.5" cy="451.7" r="4.6" fill="#fff" stroke="#cc1e78" stroke-width="1.3"/>
<circle cx="1324.8" cy="451.5" r="4.6" fill="#fff" stroke="#cc1e78" stroke-width="1.3"/>
<circle cx="1335.1" cy="451.4" r="4.6" fill="#fff" stroke="#cc1e78" stroke-width="1.3"/>
<circle cx="1345.4" cy="451.2" r="4.6" fill="#fff" stroke="#cc1e78" stroke-width="1.3"/>
<circle cx="1355.6" cy="451.0" r="4.6" fill="#fff" stroke="#cc1e78" stroke-width="1.3"/>
<circle cx="1365.9" cy="450.9" r="4.6" fill="#fff" stroke="#cc1e78" stroke-width="1.3"/>
<circle cx="1376.2" cy="450.7" r="4.6" fill="#fff" stroke="#cc1e78" stroke-width="1.3"/>
<circle cx="1386.5" cy="450.6" r="4.6" fill="#fff" stroke="#cc1e78" stroke-width="1.3"/>
<circle cx="1396.8" cy="450.5" r="4.6" fill="#fff" stroke="#cc1e78" stroke-width="1.3"/>
<circle cx="1407.0" cy="450.3" r="4.6" fill="#fff" stroke="#cc1e78" stroke-width="1.3"/>
<circle cx="1417.3" cy="450.2" r="4.6" fill="#fff" stroke="#cc1e78" stroke-width="1.3"/>
<circle cx="1427.6" cy="450.0" r="4.6" fill="#fff" stroke="#cc1e78" stroke-width="1.3"/>
<circle cx="1437.9" cy="449.8" r="4.6" fill="#fff" stroke="#cc1e78" stroke-width="1.3"/>
<circle cx="1448.2" cy="449.5" r="4.6" fill="#fff" stroke="#cc1e78" stroke-width="1.3"/>
<circle cx="1458.4" cy="449.2" r="4.6" fill="#fff" stroke="#cc1e78" stroke-width="1.3"/>
<circle cx="1468.7" cy="448.7" r="4.6" fill="#fff" stroke="#cc1e78" stroke-width="1.3"/>
<circle cx="1479.0" cy="447.8" r="4.6" fill="#fff" stroke="#cc1e78" stroke-width="1.3"/>
<polyline points="913.6,494.6 923.9,493.3 934.2,491.4 944.4,488.6 954.7,485.2 965.0,480.3 975.3,477.8 985.6,474.3 995.8,471.2 1006.1,467.2 1016.4,463.4 1026.7,459.8 1037.0,456.2 1047.2,452.8 1057.5,449.8 1067.8,447.4 1078.1,445.0 1088.4,442.1 1098.6,440.0 1108.9,438.0 1119.2,436.2 1129.5,434.5 1139.8,433.4 1150.0,432.0 1160.3,431.0 1170.6,430.2 1180.9,429.6 1191.2,428.9 1201.4,428.5 1211.7,428.1 1222.0,427.8 1232.3,427.1 1242.6,426.8 1252.8,426.7 1263.1,426.4 1273.4,426.1 1283.7,426.1 1294.0,426.2 1304.2,426.3 1314.5,426.5 1324.8,426.7 1335.1,426.9 1345.4,427.1 1355.6,427.3 1365.9,427.5 1376.2,427.6 1386.5,427.8 1396.8,428.0 1407.0,428.2 1417.3,428.4 1427.6,428.7 1437.9,429.0 1448.2,429.4 1458.4,429.9 1468.7,430.2 1479.0,430.9" fill="none" stroke="#36d23e" stroke-width="1.4" stroke-linejoin="round" stroke-linecap="round"/>
<circle cx="913.6" cy="494.6" r="4.6" fill="#fff" stroke="#36d23e" stroke-width="1.3"/>
<circle cx="923.9" cy="493.3" r="4.6" fill="#fff" stroke="#36d23e" stroke-width="1.3"/>
<circle cx="934.2" cy="491.4" r="4.6" fill="#fff" stroke="#36d23e" stroke-width="1.3"/>
<circle cx="944.4" cy="488.6" r="4.6" fill="#fff" stroke="#36d23e" stroke-width="1.3"/>
<circle cx="954.7" cy="485.2" r="4.6" fill="#fff" stroke="#36d23e" stroke-width="1.3"/>
<circle cx="965.0" cy="480.3" r="4.6" fill="#fff" stroke="#36d23e" stroke-width="1.3"/>
<circle cx="975.3" cy="477.8" r="4.6" fill="#fff" stroke="#36d23e" stroke-width="1.3"/>
<circle cx="985.6" cy="474.3" r="4.6" fill="#fff" stroke="#36d23e" stroke-width="1.3"/>
<circle cx="995.8" cy="471.2" r="4.6" fill="#fff" stroke="#36d23e" stroke-width="1.3"/>
<circle cx="1006.1" cy="467.2" r="4.6" fill="#fff" stroke="#36d23e" stroke-width="1.3"/>
<circle cx="1016.4" cy="463.4" r="4.6" fill="#fff" stroke="#36d23e" stroke-width="1.3"/>
<circle cx="1026.7" cy="459.8" r="4.6" fill="#fff" stroke="#36d23e" stroke-width="1.3"/>
<circle cx="1037.0" cy="456.2" r="4.6" fill="#fff" stroke="#36d23e" stroke-width="1.3"/>
<circle cx="1047.2" cy="452.8" r="4.6" fill="#fff" stroke="#36d23e" stroke-width="1.3"/>
<circle cx="1057.5" cy="449.8" r="4.6" fill="#fff" stroke="#36d23e" stroke-width="1.3"/>
<circle cx="1067.8" cy="447.4" r="4.6" fill="#fff" stroke="#36d23e" stroke-width="1.3"/>
<circle cx="1078.1" cy="445.0" r="4.6" fill="#fff" stroke="#36d23e" stroke-width="1.3"/>
<circle cx="1088.4" cy="442.1" r="4.6" fill="#fff" stroke="#36d23e" stroke-width="1.3"/>
<circle cx="1098.6" cy="440.0" r="4.6" fill="#fff" stroke="#36d23e" stroke-width="1.3"/>
<circle cx="1108.9" cy="438.0" r="4.6" fill="#fff" stroke="#36d23e" stroke-width="1.3"/>
<circle cx="1119.2" cy="436.2" r="4.6" fill="#fff" stroke="#36d23e" stroke-width="1.3"/>
<circle cx="1129.5" cy="434.5" r="4.6" fill="#fff" stroke="#36d23e" stroke-width="1.3"/>
<circle cx="1139.8" cy="433.4" r="4.6" fill="#fff" stroke="#36d23e" stroke-width="1.3"/>
<circle cx="1150.0" cy="432.0" r="4.6" fill="#fff" stroke="#36d23e" stroke-width="1.3"/>
<circle cx="1160.3" cy="431.0" r="4.6" fill="#fff" stroke="#36d23e" stroke-width="1.3"/>
<circle cx="1170.6" cy="430.2" r="4.6" fill="#fff" stroke="#36d23e" stroke-width="1.3"/>
<circle cx="1180.9" cy="429.6" r="4.6" fill="#fff" stroke="#36d23e" stroke-width="1.3"/>
<circle cx="1191.2" cy="428.9" r="4.6" fill="#fff" stroke="#36d23e" stroke-width="1.3"/>
<circle cx="1201.4" cy="428.5" r="4.6" fill="#fff" stroke="#36d23e" stroke-width="1.3"/>
<circle cx="1211.7" cy="428.1" r="4.6" fill="#fff" stroke="#36d23e" stroke-width="1.3"/>
<circle cx="1222.0" cy="427.8" r="4.6" fill="#fff" stroke="#36d23e" stroke-width="1.3"/>
<circle cx="1232.3" cy="427.1" r="4.6" fill="#fff" stroke="#36d23e" stroke-width="1.3"/>
<circle cx="1242.6" cy="426.8" r="4.6" fill="#fff" stroke="#36d23e" stroke-width="1.3"/>
<circle cx="1252.8" cy="426.7" r="4.6" fill="#fff" stroke="#36d23e" stroke-width="1.3"/>
<circle cx="1263.1" cy="426.4" r="4.6" fill="#fff" stroke="#36d23e" stroke-width="1.3"/>
<circle cx="1273.4" cy="426.1" r="4.6" fill="#fff" stroke="#36d23e" stroke-width="1.3"/>
<circle cx="1283.7" cy="426.1" r="4.6" fill="#fff" stroke="#36d23e" stroke-width="1.3"/>
<circle cx="1294.0" cy="426.2" r="4.6" fill="#fff" stroke="#36d23e" stroke-width="1.3"/>
<circle cx="1304.2" cy="426.3" r="4.6" fill="#fff" stroke="#36d23e" stroke-width="1.3"/>
<circle cx="1314.5" cy="426.5" r="4.6" fill="#fff" stroke="#36d23e" stroke-width="1.3"/>
<circle cx="1324.8" cy="426.7" r="4.6" fill="#fff" stroke="#36d23e" stroke-width="1.3"/>
<circle cx="1335.1" cy="426.9" r="4.6" fill="#fff" stroke="#36d23e" stroke-width="1.3"/>
<circle cx="1345.4" cy="427.1" r="4.6" fill="#fff" stroke="#36d23e" stroke-width="1.3"/>
<circle cx="1355.6" cy="427.3" r="4.6" fill="#fff" stroke="#36d23e" stroke-width="1.3"/>
<circle cx="1365.9" cy="427.5" r="4.6" fill="#fff" stroke="#36d23e" stroke-width="1.3"/>
<circle cx="1376.2" cy="427.6" r="4.6" fill="#fff" stroke="#36d23e" stroke-width="1.3"/>
<circle cx="1386.5" cy="427.8" r="4.6" fill="#fff" stroke="#36d23e" stroke-width="1.3"/>
<circle cx="1396.8" cy="428.0" r="4.6" fill="#fff" stroke="#36d23e" stroke-width="1.3"/>
<circle cx="1407.0" cy="428.2" r="4.6" fill="#fff" stroke="#36d23e" stroke-width="1.3"/>
<circle cx="1417.3" cy="428.4" r="4.6" fill="#fff" stroke="#36d23e" stroke-width="1.3"/>
<circle cx="1427.6" cy="428.7" r="4.6" fill="#fff" stroke="#36d23e" stroke-width="1.3"/>
<circle cx="1437.9" cy="429.0" r="4.6" fill="#fff" stroke="#36d23e" stroke-width="1.3"/>
<circle cx="1448.2" cy="429.4" r="4.6" fill="#fff" stroke="#36d23e" stroke-width="1.3"/>
<circle cx="1458.4" cy="429.9" r="4.6" fill="#fff" stroke="#36d23e" stroke-width="1.3"/>
<circle cx="1468.7" cy="430.2" r="4.6" fill="#fff" stroke="#36d23e" stroke-width="1.3"/>
<circle cx="1479.0" cy="430.9" r="4.6" fill="#fff" stroke="#36d23e" stroke-width="1.3"/>
<line x1="1166.30" y1="128.90" x2="1227.70" y2="128.90" stroke="#04f812" stroke-width="2.2"/>
<circle cx="1197.1" cy="128.9" r="5.4" fill="#04f812"/>
<line x1="1166.30" y1="171.10" x2="1227.70" y2="171.10" stroke="#fc0480" stroke-width="2.2"/>
<circle cx="1197.1" cy="171.1" r="5.4" fill="#fc0480"/>
<line x1="1166.30" y1="213.30" x2="1227.70" y2="213.30" stroke="#22e028" stroke-width="2.2"/>
<circle cx="1197.1" cy="213.3" r="4.8" fill="#fff" stroke="#36d23e" stroke-width="1.3"/>
<line x1="1166.30" y1="256.00" x2="1227.70" y2="256.00" stroke="#d81a7a" stroke-width="2.2"/>
<circle cx="1197.1" cy="256.0" r="4.8" fill="#fff" stroke="#cc1e78" stroke-width="1.3"/>
<g font-family='"Liberation Sans", sans-serif' font-weight="bold" fill="#000" style="font-kerning:none">
<text transform="matrix(1,0,0,1.035,0,-4.830)" x="1234.28" y="138.00" font-size="24">W</text>
<text transform="matrix(1,0,0,1.035,0,-5.215)" x="1256.45" y="149.00" font-size="16">2</text>
<path d="M380,0L242,0L242,-492C196,-455 132,-423 70,-402L70,-542C160,-578 234,-638 270,-700L380,-700Z" transform="translate(1279.54,138.00) scale(0.02400,0.02484)"/>
<text transform="matrix(1,0,0,1.035,0,-4.830)" x="1265.40 1293.01 1306.48 1319.94 1334.72 1356.18 1369.76 1377.87 1387.33 1402.11 1430.36 1447.81" y="138.00" font-size="24">=00nm,fromRP</text>
<text transform="matrix(1,0,0,1.035,0,-6.307)" x="1234.28" y="180.20" font-size="24">W</text>
<text transform="matrix(1,0,0,1.035,0,-6.692)" x="1256.45" y="191.20" font-size="16">2</text>
<text transform="matrix(1,0,0,1.035,0,-6.307)" x="1265.40 1279.54 1293.01 1306.48 1319.94 1334.72 1356.18 1369.76 1377.87 1387.33 1402.11 1430.36 1447.81" y="180.20" font-size="24">=300nm,fromRP</text>
<text transform="matrix(1,0,0,1.035,0,-7.784)" x="1234.28" y="222.40" font-size="24">W</text>
<text transform="matrix(1,0,0,1.035,0,-8.169)" x="1256.45" y="233.40" font-size="16">2</text>
<path d="M380,0L242,0L242,-492C196,-455 132,-423 70,-402L70,-542C160,-578 234,-638 270,-700L380,-700Z" transform="translate(1279.54,222.40) scale(0.02400,0.02484)"/>
<text transform="matrix(1,0,0,1.035,0,-7.784)" x="1265.40 1293.01 1306.48 1319.95 1334.74 1356.20 1369.78 1377.90 1387.36 1402.14 1430.40 1446.53" y="222.40" font-size="24">=00nm,fromES</text>
<text transform="matrix(1,0,0,1.035,0,-9.278)" x="1234.28" y="265.10" font-size="24">W</text>
<text transform="matrix(1,0,0,1.035,0,-9.663)" x="1256.45" y="276.10" font-size="16">2</text>
<text transform="matrix(1,0,0,1.035,0,-9.278)" x="1265.40 1279.54 1293.01 1306.48 1319.95 1334.74 1356.20 1369.78 1377.90 1387.36 1402.14 1430.40 1446.53" y="265.10" font-size="24">=300nm,fromES</text>
<path d="M380,0L242,0L242,-492C196,-455 132,-423 70,-402L70,-542C160,-578 234,-638 270,-700L380,-700Z" transform="translate(858.77,96.50) scale(0.02900,0.03132)"/>
<text transform="matrix(1,0,0,1.08,0,-7.720)" x="874.90" y="96.50" font-size="29">2</text>
<text transform="matrix(1,0,0,1.08,0,-17.320)" x="873.18" y="216.50" font-size="29">8</text>
<text transform="matrix(1,0,0,1.08,0,-27.120)" x="873.06" y="339.00" font-size="29">4</text>
<text transform="matrix(1,0,0,1.08,0,-36.912)" x="876.55" y="461.40" font-size="29">0</text>
<path d="M380,0L242,0L242,-492C196,-455 132,-423 70,-402L70,-542C160,-578 234,-638 270,-700L380,-700Z" transform="translate(924.55,73.20) scale(0.03250,0.03364)"/>
<text transform="matrix(1,0,0,1.035,0,-2.562)" x="905.68 943.43" y="73.20" font-size="32.5">x0</text>
<text transform="matrix(1,0,0,1.08,0,-4.320)" x="963.00" y="54.00" font-size="19.5">5</text>
<path d="M380,0L242,0L242,-492C196,-455 132,-423 70,-402L70,-542C160,-578 234,-638 270,-700L380,-700Z" transform="translate(943.61,549.30) scale(0.02450,0.02536)"/>
<text transform="matrix(1,0,0,1.035,0,-19.225)" x="958.03 972.46" y="549.30" font-size="24.5">00</text>
<text transform="matrix(1,0,0,1.035,0,-19.225)" x="1046.84 1061.26 1075.69" y="549.30" font-size="24.5">200</text>
<text transform="matrix(1,0,0,1.035,0,-19.225)" x="1149.78 1164.21 1178.63" y="549.30" font-size="24.5">300</text>
<text transform="matrix(1,0,0,1.035,0,-19.225)" x="1252.68 1267.10 1281.53" y="549.30" font-size="24.5">400</text>
<text transform="matrix(1,0,0,1.035,0,-19.225)" x="1355.29 1369.71 1384.14" y="549.30" font-size="24.5">500</text>
<text transform="matrix(1,0,0,1.035,0,-19.225)" x="1458.02 1472.44 1486.87" y="549.30" font-size="24.5">600</text>
<text transform="matrix(1,0,0,1.035,0,-20.807)" x="1168.56" y="594.50" font-size="33.5">H</text>
<text transform="matrix(1,0,0,1.035,0,-21.273)" x="1193.55" y="607.80" font-size="19">0</text>
<text transform="matrix(1,0,0,1.035,0,-20.807)" x="1214.13 1225.89 1246.95 1277.34" y="594.50" font-size="33.5">(nm)</text>
<g transform="translate(831.5,484.0) rotate(-90)">
<text x="-1.28 21.25 40.31 59.37 69.76 81.90 90.57 109.63 128.68 139.07 156.43 184.15 208.42 225.77 234.44 262.17 272.56" y="0.00" font-size="31.2">ContributedGain(W</text>
<path d="M380,0L242,0L242,-492C196,-455 132,-423 70,-402L70,-542C160,-578 234,-638 270,-700L380,-700Z" transform="translate(307.00,-17.40) scale(0.01700,0.01700)"/>
<text x="301.34" y="-17.40" font-size="17">-</text>
<text x="315.90" y="0.00" font-size="31.2">m</text>
<path d="M380,0L242,0L242,-492C196,-455 132,-423 70,-402L70,-542C160,-578 234,-638 270,-700L380,-700Z" transform="translate(350.44,-17.40) scale(0.01700,0.01700)"/>
<text x="344.78" y="-17.40" font-size="17">-</text>
<text x="358.86" y="0.00" font-size="31.2">)</text>
</g>
</g>
<g font-family='"Liberation Serif", serif' font-weight="bold" font-style="italic" fill="#000">
<text transform="matrix(1,0,0,1.035,0,-0.910)" x="72.15 84.64 103.39" y="26.00" font-size="37.5">(a)</text>
<text transform="matrix(1,0,0,1.035,0,-0.903)" x="797.35 809.84 828.59" y="25.80" font-size="37.5">(b)</text>
</g>
</svg>
</body></html>
